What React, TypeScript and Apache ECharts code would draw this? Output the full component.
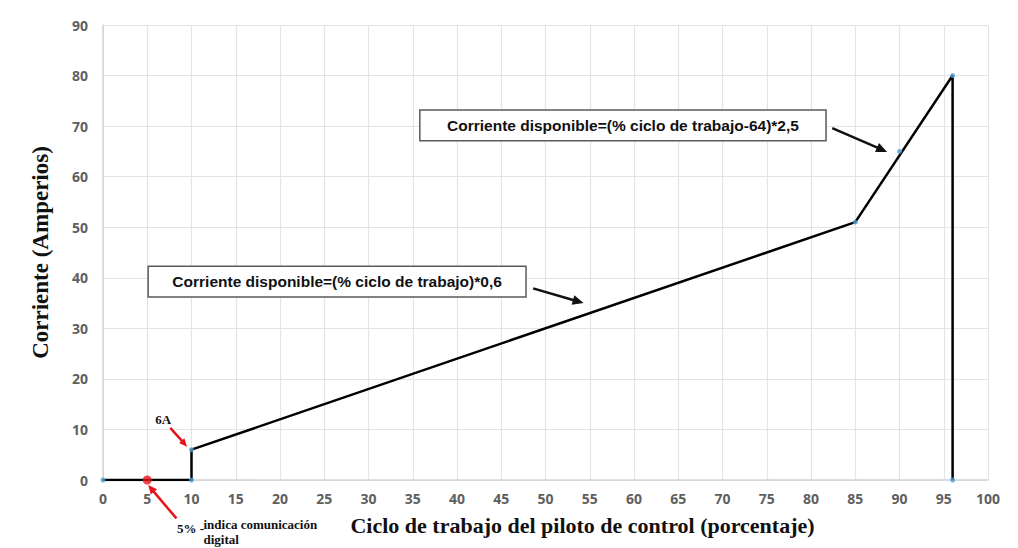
import React, { useEffect, useRef } from "react";
import * as echarts from "echarts";

const xTicks = [0, 5, 10, 15, 20, 25, 30, 35, 40, 45, 50, 55, 60, 65, 70, 75, 80, 85, 90, 95, 100];
const curveX = [0, 10, 10, 85, 96, 96];
const curveY = [0, 0, 6, 51, 80, 0];
const markerX = [0, 10, 10, 85, 90, 96, 96];
const markerY = [0, 0, 6, 51, 65, 80, 0];
const digitalX = [5];
const digitalY = [0];
const formula1 = "Corriente disponible=(% ciclo de trabajo)*0,6";
const formula2 = "Corriente disponible=(% ciclo de trabajo-64)*2,5";

export default function App() {
  const ref = useRef<HTMLDivElement>(null);
  useEffect(() => {
    if (!ref.current) return;
    const chart = echarts.init(ref.current, null, { renderer: "svg" });
    const tickFont = { fontFamily: "'Open Sans', 'Noto Sans', sans-serif", fontWeight: "bold" as const, fontSize: 14, color: "#5f5f5f" };
    chart.setOption({
      animation: false,
      backgroundColor: "#ffffff",
      grid: { left: 103, right: 30, top: 25, bottom: 68 },
      xAxis: {
        type: "value",
        min: 0,
        max: 100,
        interval: 5,
        name: "Ciclo de trabajo del piloto de control (porcentaje)",
        nameLocation: "middle",
        nameGap: 34,
        nameTextStyle: { fontFamily: "'Liberation Serif', serif", fontWeight: "bold", fontSize: 22, color: "#111", padding: [0, 0, 0, 74] },
        axisLine: { lineStyle: { color: "#d4d4d4", width: 1.5 } },
        axisTick: { show: false },
        axisLabel: { ...tickFont, margin: 11 },
        splitLine: { show: true, lineStyle: { color: "#e4e4e4", width: 1.2 } },
      },
      yAxis: {
        type: "value",
        min: 0,
        max: 90,
        interval: 10,
        name: "Corriente (Amperios)",
        nameLocation: "middle",
        nameGap: 51,
        nameTextStyle: { fontFamily: "'Liberation Serif', serif", fontWeight: "bold", fontSize: 23, color: "#111" },
        axisLine: { show: true, lineStyle: { color: "#d4d4d4", width: 1.5 } },
        axisTick: { show: false },
        axisLabel: { ...tickFont, margin: 15 },
        splitLine: { show: true, lineStyle: { color: "#e4e4e4", width: 1.2 } },
      },
      series: [
        {
          type: "line",
          data: curveX.map((x, i) => [x, curveY[i]]),
          showSymbol: false,
          lineStyle: { color: "#000", width: 2.5 },
          z: 2,
        },
        {
          type: "scatter",
          data: markerX.map((x, i) => [x, markerY[i]]),
          symbolSize: 5,
          itemStyle: { color: "#4a9fd8" },
          z: 3,
        },
        {
          type: "scatter",
          data: digitalX.map((x, i) => [x, digitalY[i]]),
          symbolSize: 9,
          itemStyle: { color: "#e8141b" },
          z: 4,
        },
      ],
    });

    const px = (x: number, y: number) => chart.convertToPixel({ gridIndex: 0 }, [x, y]) as number[];
    const arrow = (a: number[], b: number[], color: string, width: number, head: number) => {
      const dx = b[0] - a[0];
      const dy = b[1] - a[1];
      const len = Math.sqrt(dx * dx + dy * dy);
      const ux = dx / len;
      const uy = dy / len;
      const base = [b[0] - ux * head, b[1] - uy * head];
      const hw = head * 0.45;
      return [
        { type: "line", shape: { x1: a[0], y1: a[1], x2: base[0] + ux * 1, y2: base[1] + uy * 1 }, style: { stroke: color, lineWidth: width }, z: 10 },
        {
          type: "polygon",
          shape: { points: [b, [base[0] - uy * hw, base[1] + ux * hw], [base[0] + uy * hw, base[1] - ux * hw]] },
          style: { fill: color },
          z: 10,
        },
      ];
    };
    const box = (tl: number[], br: number[], text: string) => [
      {
        type: "rect",
        shape: { x: tl[0], y: tl[1], width: br[0] - tl[0], height: br[1] - tl[1] },
        style: { fill: "#fff", stroke: "#5a5a5a", lineWidth: 1.5 },
        z: 10,
      },
      {
        type: "text",
        x: (tl[0] + br[0]) / 2,
        y: (tl[1] + br[1]) / 2,
        style: {
          text,
          align: "center",
          verticalAlign: "middle",
          fill: "#111",
          font: "bold 15.5px 'Liberation Sans', Arial, sans-serif",
        },
        z: 11,
      },
    ];
    const serifLabel = (p: number[], text: string, size: number, align = "left") => ({
      type: "text",
      x: p[0],
      y: p[1],
      style: { text, align, verticalAlign: "middle", fill: "#111", font: `bold ${size}px 'Liberation Serif', serif` },
      z: 11,
    });

    const graphic = [
      ...box(px(5.1, 42.3), px(47.8, 36.2), formula1),
      ...arrow(px(48.6, 37.9), px(54.3, 35.0), "#111", 2.5, 11),
      ...box(px(35.8, 73.2), px(81.7, 67.1), formula2),
      ...arrow(px(82.4, 69.6), px(88.6, 64.9), "#111", 2.5, 11),
      ...arrow(px(7.6, 10.3), px(9.5, 6.6), "#e8141b", 2.5, 8),
      ...arrow(px(8.3, -7.6), px(5.1, -1.0), "#e8141b", 2.5, 9),
      serifLabel(px(6.8, 12.0), "6A", 13, "center"),
      serifLabel(px(8.35, -9.5), "5% -", 13),
      serifLabel(px(11.35, -8.9), "indica comunicación", 13),
      serifLabel(px(11.35, -11.8), "digital", 13),
    ];
    chart.setOption({ graphic });
    return () => chart.dispose();
  }, []);
  return <div ref={ref} style={{ width: 1018, height: 548, position: "absolute", left: 0, top: 0 }} />;
}
